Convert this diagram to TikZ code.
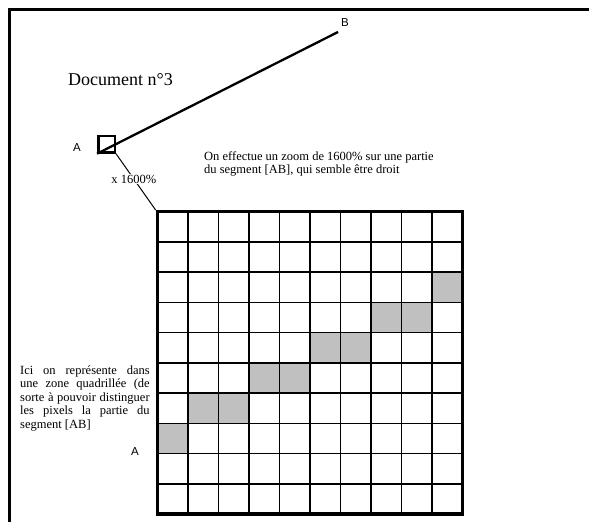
\documentclass[tikz,border=0pt]{standalone}
\usepackage{fontspec}
\setmainfont{Liberation Serif}
\newfontfamily\ptfont{Liberation Sans}
\usetikzlibrary{positioning}
\definecolor{pixgray}{HTML}{C0C0C0}

\begin{document}
\begin{tikzpicture}[x=1pt,y=-1pt,
 frameline/.style={line width=2.5pt},
 ptlabel/.style={font=\ptfont\fontsize{11.5}{12}\selectfont,inner sep=0pt},
 note/.style={font=\fontsize{12.5}{13.5}\selectfont,align=left,inner sep=0pt},
 zoombox/.style={draw,line width=2.5pt,minimum size=16.5pt,inner sep=0pt},
 gridline/.style={line width=1.5pt},
 gridbox/.style={draw,line width=3.2pt,minimum width=305.4pt,minimum height=302.3pt,inner sep=0pt}]
\useasboundingbox (0,0) rectangle (589,522);
% page frame
\draw[frameline] (9.3,522) -- (9.3,9.3) -- (589,9.3);
\node[font=\fontsize{18}{20}\selectfont,anchor=west,inner sep=0pt] (title) at (68,80) {Document n°3};
% segment [AB]
\node[zoombox] (zoom) at (106.5,144.2) {};
\coordinate (ptB) at (338,32);
\draw[line width=2.3pt] (zoom.south west) -- (ptB);
\node[ptlabel] (labB) at (345,23) {B};
\node[ptlabel] (labA) at (77,148) {A};
\node[note,anchor=north west] (intro) at (204,151) {On effectue un zoom de 1600\% sur une partie\\du segment [AB], qui semble être droit};
% zoomed pixels
\foreach \c/\r in {9/2,7/3,8/3,5/4,6/4,3/5,4/5,1/6,2/6,0/7}
 \fill[pixgray] ({157.3+30.54*\c},{211.7+30.23*\r}) rectangle ++(30.54,30.23);
\foreach \i in {1,...,9} {
 \draw[gridline] ({157.3+30.54*\i},211.7) -- ++(0,302.3);
 \draw[gridline] (157.3,{211.7+30.23*\i}) -- ++(305.4,0);
}
\node[gridbox] (grid) at (310,362.85) {};
\draw[line width=1pt] (zoom.south east) -- node[fill=white,inner sep=1pt,font=\fontsize{12.5}{13}\selectfont,pos=.45] (factor) {x 1600\%} (grid.north west);
\node[note,align=justify,text width=129.5pt,anchor=north west] (explain) at (20,365.5)
 {Ici on représente dans\linebreak une zone quadrillée (de\linebreak sorte à pouvoir distinguer\linebreak les pixels la partie du\linebreak segment [AB]};
\node[ptlabel] (labA2) at (135,452) {A};
\end{tikzpicture}
\end{document}
